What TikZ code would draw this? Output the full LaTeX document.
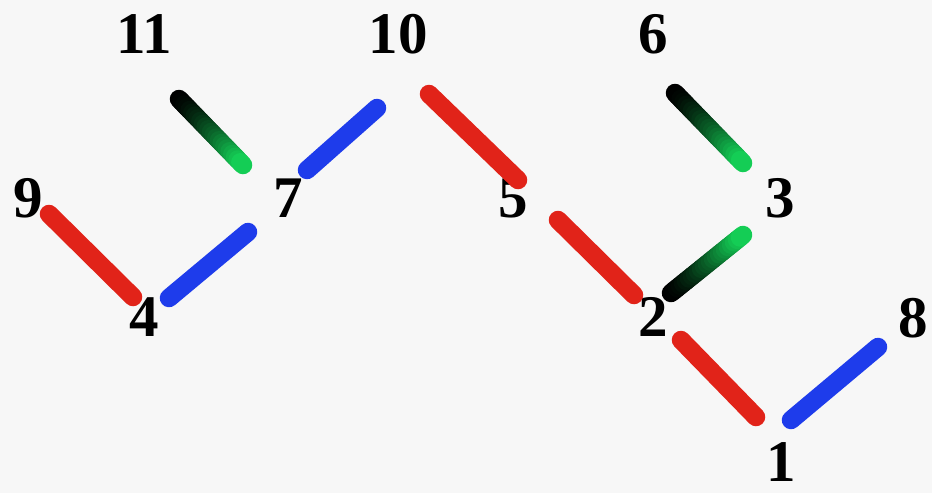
\documentclass[tikz,border=0pt]{standalone}
\usepackage{fontspec}
\setmainfont{Liberation Serif}
\usetikzlibrary{calc}
\definecolor{bg}{RGB}{247,247,247}
\definecolor{stickred}{RGB}{225,35,25}
\definecolor{stickblue}{RGB}{30,60,235}
\definecolor{stickgreen}{RGB}{20,205,85}
\tikzset{
  lbl/.style={inner sep=0pt, font=\fontsize{59}{59}\selectfont\bfseries},
  stick/.style={line width=18.5pt, line cap=round},
  redstick/.style={stick, draw=stickred},
  bluestick/.style={stick, draw=stickblue},
}
\newcommand{\gradstick}[2]{%
  \foreach \i in {0,...,23}{%
    \pgfmathtruncatemacro\p{100*(\i/23)^1.4}%
    \draw[stick, draw=stickgreen!\p!black] ($(#1)!{\i/24}!(#2)$) -- ($(#1)!{(\i+1)/24}!(#2)$);
  }%
}
\begin{document}
\begin{tikzpicture}[x=1pt,y=-1pt]
\fill[bg] (0,0) rectangle (932,493);
\useasboundingbox (0,0) rectangle (932,493);
% labels
\node[lbl] (n11) at (144,34) {11};
\node[lbl] (n10) at (398,34) {10};
\node[lbl] (n6)  at (653,34) {6};
\node[lbl] (n9)  at (28,198) {9};
\node[lbl] (n7)  at (288,198) {7};
\node[lbl] (n5)  at (513,198) {5};
\node[lbl] (n3)  at (780,198) {3};
\node[lbl] (n4)  at (144,317) {4};
\node[lbl] (n2)  at (653,317) {2};
\node[lbl] (n8)  at (913,318) {8};
\node[lbl] (n1)  at (781,462) {1};
% stick end points
\coordinate (s11a) at (179,99);  \coordinate (s11b) at (243,165);
\coordinate (s7a)  at (307,170); \coordinate (s7b)  at (377,108);
\coordinate (s9a)  at (49,214);  \coordinate (s9b)  at (133,297);
\coordinate (s4a)  at (169,298); \coordinate (s4b)  at (248,232);
\coordinate (s10a) at (429,94);  \coordinate (s10b) at (518,180);
\coordinate (s5a)  at (558,220); \coordinate (s5b)  at (634,295);
\coordinate (s6a)  at (675,93);  \coordinate (s6b)  at (743,163);
\coordinate (s3a)  at (671,293); \coordinate (s3b)  at (743,235);
\coordinate (s2a)  at (681,340); \coordinate (s2b)  at (756,417);
\coordinate (s8a)  at (791,420); \coordinate (s8b)  at (878,347);
% sticks
\gradstick{s11a}{s11b}
\draw[bluestick] (s7a) -- (s7b);
\draw[redstick] (s9a) -- (s9b);
\draw[bluestick] (s4a) -- (s4b);
\draw[redstick] (s10a) -- (s10b);
\draw[redstick] (s5a) -- (s5b);
\gradstick{s6a}{s6b}
\gradstick{s3a}{s3b}
\draw[redstick] (s2a) -- (s2b);
\draw[bluestick] (s8a) -- (s8b);
\end{tikzpicture}
\end{document}
